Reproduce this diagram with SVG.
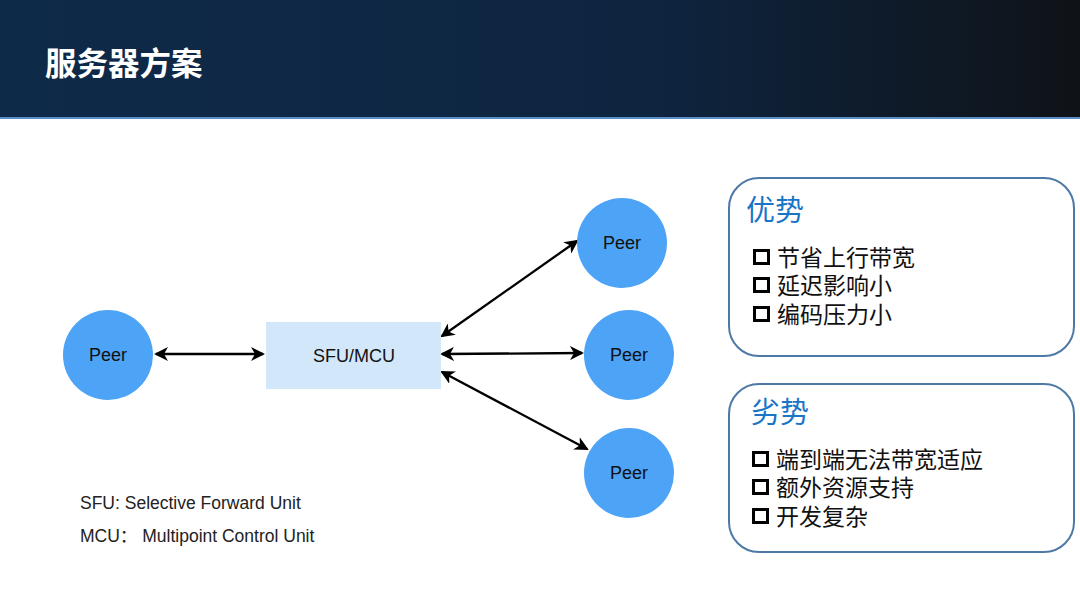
<svg xmlns="http://www.w3.org/2000/svg" width="1080" height="599" viewBox="0 0 1080 599">
<defs>
<linearGradient id="hdr" x1="0" y1="0" x2="1" y2="0">
<stop offset="0" stop-color="#0e2a49"/>
<stop offset="0.6" stop-color="#0e2540"/>
<stop offset="1" stop-color="#0f1318"/>
</linearGradient>
<marker id="ah" viewBox="0 0 14 14" refX="12" refY="7" markerWidth="14" markerHeight="14" markerUnits="userSpaceOnUse" orient="auto-start-reverse">
<path d="M0,0 L14,7 L0,14 L4,7 Z" fill="#000"/>
</marker>
<style>
.peer{fill:#4da3f6}
.lbl{font-family:"Liberation Sans",Arial,sans-serif;font-size:18px;fill:#111;text-anchor:middle}
.conn{stroke:#000;stroke-width:2.3;fill:none}
.box{fill:#fff;stroke:#4d79a6;stroke-width:2}
.bt{font-family:"Noto Sans CJK SC",sans-serif;font-size:29px;fill:#1a75c6}
.it{font-family:"Noto Sans CJK SC",sans-serif;font-size:23px;fill:#111}
.sq{fill:none;stroke:#000;stroke-width:3}
.leg{font-family:"Liberation Sans","Noto Sans CJK SC",Arial,sans-serif;font-size:17.5px;fill:#222}
</style>
</defs>
<rect width="1080" height="599" fill="#fff"/>
<g id="header">
<rect x="0" y="0" width="1080" height="117" fill="url(#hdr)"/>
<rect x="0" y="117" width="1080" height="2" fill="#5a8ec8"/>
<text x="45" y="75" font-family="'Noto Sans CJK SC',sans-serif" font-size="31.5" font-weight="bold" fill="#fff">服务器方案</text>
</g>
<g id="connectors">
<line class="conn" x1="156" y1="354" x2="263" y2="354" marker-start="url(#ah)" marker-end="url(#ah)"/>
<line class="conn" x1="442" y1="336" x2="577" y2="241" marker-start="url(#ah)" marker-end="url(#ah)"/>
<line class="conn" x1="442" y1="354" x2="582" y2="353" marker-start="url(#ah)" marker-end="url(#ah)"/>
<line class="conn" x1="442" y1="372" x2="587" y2="449" marker-start="url(#ah)" marker-end="url(#ah)"/>
</g>
<g id="peer-left">
<circle class="peer" cx="108" cy="355" r="45"/>
<text class="lbl" x="108" y="361">Peer</text>
</g>
<g id="sfu-mcu">
<rect x="266" y="322" width="175" height="67" fill="#d3e7fb"/>
<text class="lbl" x="354" y="362">SFU/MCU</text>
</g>
<g id="peer-top">
<circle class="peer" cx="622" cy="243" r="45"/>
<text class="lbl" x="622" y="249">Peer</text>
</g>
<g id="peer-mid">
<circle class="peer" cx="629" cy="355" r="45"/>
<text class="lbl" x="629" y="361">Peer</text>
</g>
<g id="peer-bottom">
<circle class="peer" cx="629" cy="473" r="45"/>
<text class="lbl" x="629" y="479">Peer</text>
</g>
<g id="legend">
<text class="leg" x="80" y="509">SFU: Selective Forward Unit</text>
<text class="leg" x="80" y="542">MCU：  Multipoint Control Unit</text>
</g>
<g id="advantages">
<rect class="box" x="729" y="178" width="345" height="178" rx="30" ry="30"/>
<text class="bt" x="746" y="221">优势</text>
<rect class="sq" x="754.5" y="250.5" width="14" height="13"/>
<text class="it" x="777" y="266">节省上行带宽</text>
<rect class="sq" x="754.5" y="278.5" width="14" height="13"/>
<text class="it" x="777" y="294">延迟影响小</text>
<rect class="sq" x="754.5" y="307.5" width="14" height="13"/>
<text class="it" x="777" y="323">编码压力小</text>
</g>
<g id="disadvantages">
<rect class="box" x="729" y="384" width="345" height="168" rx="30" ry="30"/>
<text class="bt" x="751" y="423">劣势</text>
<rect class="sq" x="753.5" y="452.5" width="14" height="13"/>
<text class="it" x="776" y="468">端到端无法带宽适应</text>
<rect class="sq" x="753.5" y="480.5" width="14" height="13"/>
<text class="it" x="776" y="496">额外资源支持</text>
<rect class="sq" x="753.5" y="509.5" width="14" height="13"/>
<text class="it" x="776" y="525">开发复杂</text>
</g>
</svg>
